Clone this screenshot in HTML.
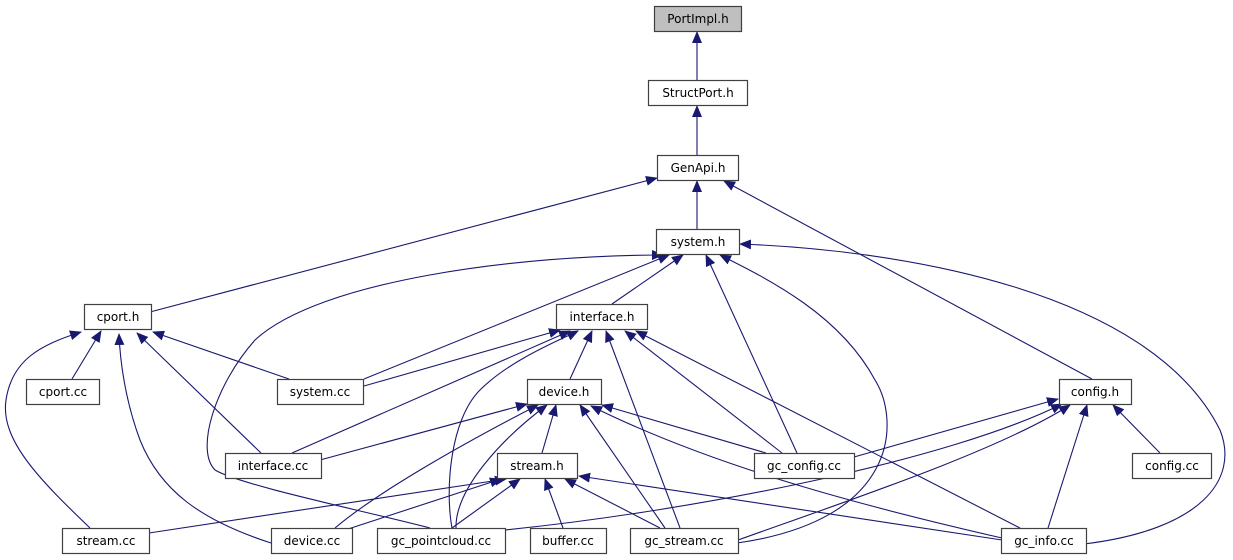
<!DOCTYPE html>
<html><head><meta charset="utf-8"><style>
html,body{margin:0;padding:0;background:#fff;width:1233px;height:560px;overflow:hidden}
svg text{font-family:"DejaVu Sans","Liberation Sans",sans-serif;font-size:12px;fill:#000}
</style></head><body>
<svg width="1233" height="560" viewBox="0 0 1233 560" xmlns="http://www.w3.org/2000/svg">
<defs><marker id="a" markerWidth="12" markerHeight="10" refX="11" refY="5" orient="auto" markerUnits="userSpaceOnUse"><path d="M0,0 L12,5 L0,10 Z" fill="#191970"/></marker></defs>
<g fill="none" stroke="#191970" stroke-width="1.1" marker-end="url(#a)">
<path d="M697,80 L697,32"/>
<path d="M697,155 L697,106"/>
<path d="M697,229 L697,181"/>
<path d="M150,312 L657,178"/>
<path d="M1092,379 L724,181"/>
<path d="M612,304 L683,255"/>
<path d="M364,379 L669,255"/>
<path d="M797,453 L706,255"/>
<path d="M737,543 C900,520 900,420 875,380 C840,315 770,280 720,255"/>
<path d="M1084,544 C1200,530 1240,480 1220,430 C1150,290 900,250 740,244"/>
<path d="M430,528 C360,510 240,485 215,470 C195,450 215,385 255,340 C320,280 520,255 663,255"/>
<path d="M72,379 L101,331"/>
<path d="M289,379 L153,332"/>
<path d="M261,453 L137,333"/>
<path d="M90,528 C40,480 0,440 6,400 C12,360 40,345 81,332"/>
<path d="M271,543 C200,520 160,490 140,440 C125,400 120,360 119,334"/>
<path d="M364,386 L560,330"/>
<path d="M292,453 L570,331"/>
<path d="M320,460 L527,404"/>
<path d="M570,379 L592,331"/>
<path d="M452,528 C445,490 450,420 480,390 C510,360 560,340 578,331"/>
<path d="M680,528 L606,331"/>
<path d="M782,453 L625,331"/>
<path d="M1020,528 L636,331"/>
<path d="M542,453 L556,405"/>
<path d="M335,528 C380,490 470,440 538,405"/>
<path d="M456,528 C455,490 500,440 547,405"/>
<path d="M665,528 L580,405"/>
<path d="M766,453 L602,405"/>
<path d="M1002,538 C880,510 720,470 591,406"/>
<path d="M149,533 L506,479"/>
<path d="M345,530 L501,479"/>
<path d="M452,528 L520,479"/>
<path d="M563,528 L545,479"/>
<path d="M660,528 L565,479"/>
<path d="M1002,540 L579,476"/>
<path d="M854,457 L1058,399"/>
<path d="M505,530 C700,510 950,460 1062,404"/>
<path d="M738,540 C850,500 1000,450 1070,405"/>
<path d="M1048,528 L1087,405"/>
<path d="M1160,453 L1113,405"/>
</g>
<g stroke="#404040" stroke-width="1.2">
<rect x="654.5" y="6.5" width="87" height="25" fill="#bfbfbf"/>
<g fill="#fff">
<rect x="648.5" y="80.5" width="99" height="25"/>
<rect x="657.5" y="155.5" width="81" height="25"/>
<rect x="656.5" y="229.5" width="83" height="25"/>
<rect x="84.5" y="304.5" width="67" height="25"/>
<rect x="556.5" y="304.5" width="91" height="25"/>
<rect x="26.5" y="379.5" width="73" height="25"/>
<rect x="277.5" y="379.5" width="86" height="25"/>
<rect x="527.5" y="379.5" width="74" height="25"/>
<rect x="1059.5" y="379.5" width="72" height="25"/>
<rect x="225.5" y="453.5" width="96" height="25"/>
<rect x="497.5" y="453.5" width="80" height="25"/>
<rect x="754.5" y="453.5" width="100" height="25"/>
<rect x="1132.5" y="453.5" width="79" height="25"/>
<rect x="62.5" y="528.5" width="87" height="25"/>
<rect x="271.5" y="528.5" width="81" height="25"/>
<rect x="377.5" y="528.5" width="128" height="25"/>
<rect x="530.5" y="528.5" width="76" height="25"/>
<rect x="630.5" y="528.5" width="108" height="25"/>
<rect x="1001.5" y="528.5" width="85" height="25"/>
</g></g>
<g text-anchor="middle">
<text x="698" y="23">PortImpl.h</text>
<text x="698" y="97">StructPort.h</text>
<text x="698" y="172">GenApi.h</text>
<text x="698" y="246">system.h</text>
<text x="118" y="321">cport.h</text>
<text x="602" y="321">interface.h</text>
<text x="63" y="396">cport.cc</text>
<text x="320" y="396">system.cc</text>
<text x="564" y="396">device.h</text>
<text x="1095" y="396">config.h</text>
<text x="273" y="470">interface.cc</text>
<text x="537" y="470">stream.h</text>
<text x="804" y="470">gc_config.cc</text>
<text x="1172" y="470">config.cc</text>
<text x="106" y="545">stream.cc</text>
<text x="312" y="545">device.cc</text>
<text x="441" y="545">gc_pointcloud.cc</text>
<text x="568" y="545">buffer.cc</text>
<text x="684" y="545">gc_stream.cc</text>
<text x="1044" y="545">gc_info.cc</text>
</g>
</svg>
</body></html>
